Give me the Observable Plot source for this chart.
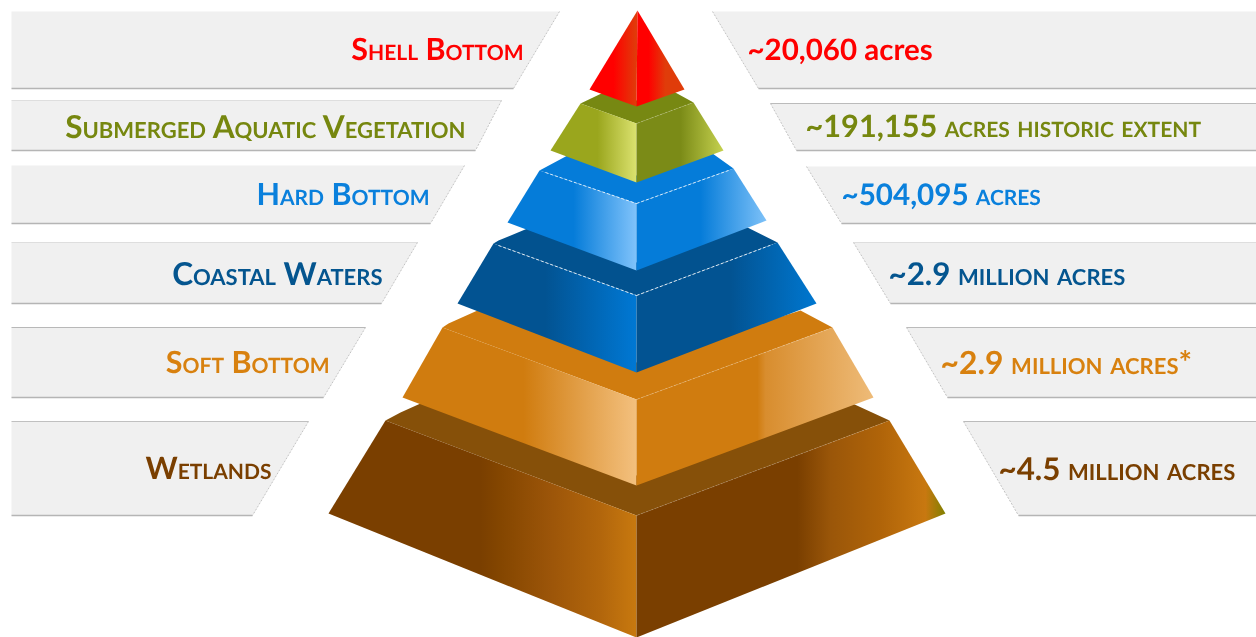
<!DOCTYPE html>
<html>
<head>
<meta charset="utf-8">
<script src="https://cdn.jsdelivr.net/npm/d3@7"></script>
<script src="https://cdn.jsdelivr.net/npm/@observablehq/plot@0.6"></script>
<style>
html,body{margin:0;padding:0;background:#fff;}
svg{display:block;filter:blur(.4px);}
svg text{text-rendering:geometricPrecision;}
</style>
</head>
<body>
<div id="chart"></div>
<script>
// Habitat names and acreages, top of the pyramid to the bottom
const habitats = ["Shell Bottom","Submerged Aquatic Vegetation","Hard Bottom","Coastal Waters","Soft Bottom","Wetlands"];
const acreages = ["~20,060 acres","~191,155 acres historic extent","~504,095 acres","~2.9 million acres","~2.9 million acres*","~4.5 million acres"];
const textColors = ["#ff0000","#76870f","#0a80dc","#04558f","#d8810f","#7a3f00"];

// Label rows
const rowY = [50,127,195,274,363,469];
const leftEnd = [523,465,429,382,329,271];
const rightStart = [747,805,841,888,940,998];
const leftSize = [30.5,31.6,30.5,31.6,30.5,30.7];
const rightSize = [29.5,30.7,29.6,31.3,31.8,31.3];

// Panels: [top y, bottom y, x at top, x at bottom]
const leftPanels = [[11,88,559,513],[100,150,501,475],[165,223,464,430],[242,303,417,381],[327,397,365,323],[421,515,308,252]];
const rightPanels = [[11,88,712,758],[103,150,770,796],[166,223,806,841],[242,303,853,890],[327,397,906,947],[421,515,963,1018]];
const leftTopLine = ["none","#dedede","none","#dedede","#b8b8b8","#c0c0c0"];
const rightTopLine = ["none","#bbbbbb","none","#dedede","#bbbbbb","#bbbbbb"];
const panelLeftEdge = 11, panelRightEdge = 1256;

// Pyramid outlines, drawn from the bottom layer up
const wetlandsTop = [[385,420],[400,412],[420,403],[636,475],[852,403],[889,420],[636,515]];
const wetlandsLeft = [[385,420],[636,515],[636,637],[328,513]];
const wetlandsRight = [[636,515],[889,420],[945,513],[636,637]];
const softTop = [[442,327],[448,323],[477,310],[636,362],[800,310],[832,327],[636,399]];
const softLeft = [[442,327],[636,399],[636,485],[402,397]];
const softRight = [[636,399],[832,327],[873,397],[636,485]];
const coastalTop = [[493,243],[498,240],[527,228],[636,262],[745,226],[777,242],[636,295]];
const coastalLeft = [[493,243],[636,295],[636,372],[457,303]];
const coastalRight = [[636,295],[777,242],[816,303],[636,372]];
const hardTop = [[539,170],[567,155],[636,175],[712,153],[733,168],[636,203]];
const hardLeft = [[539,170],[636,203],[636,270],[507,222]];
const hardRight = [[636,203],[733,168],[766,220],[636,270]];
const savTop = [[580,103],[603,92],[636,100],[673,91],[693,102],[636,123]];
const savLeft = [[580,103],[636,123],[636,182],[550,150]];
const savRight = [[636,123],[693,102],[723,150],[636,182]];
const shellLeft = [[637,10],[636,106],[589,89]];
const shellRight = [[637,10],[684,89],[636,106]];

// Face shading: [x, colour] stops
const wetlandsLeftStops = [[328,"#7a3f00"],[480,"#7a3f00"],[500,"#844600"],[550,"#9c5509"],[600,"#b2660c"],[636,"#c8790f"]];
const wetlandsRightStops = [[636,"#7a3f00"],[797,"#7a3f00"],[830,"#9a5609"],[880,"#b06409"],[925,"#c87810"],[945,"#808000"]];
const softLeftStops = [[402,"#d07c0f"],[523,"#d07c0f"],[636,"#f3c07e"]];
const softRightStops = [[636,"#d07c0f"],[757,"#d07c0f"],[765,"#d88d2e"],[873,"#eebb78"]];
const coastalLeftStops = [[457,"#025392"],[545,"#025392"],[636,"#0078d4"]];
const coastalRightStops = [[636,"#025392"],[730,"#025392"],[816,"#0077d0"]];
const hardLeftStops = [[507,"#057cd9"],[573,"#057cd9"],[636,"#80c3fb"]];
const hardRightStops = [[636,"#057cd9"],[700,"#057cd9"],[766,"#7dc1f8"]];
const savLeftStops = [[550,"#9aa61d"],[597,"#9aa61d"],[636,"#dbe26f"]];
const savRightStops = [[636,"#7b8b17"],[680,"#7b8b17"],[723,"#c5d14f"]];
const shellLeftStops = [[589,"#ff0000"],[613,"#ff0000"],[636,"#e03c0a"]];
const shellRightStops = [[636,"#ff0000"],[648,"#ff0000"],[665,"#e03c0a"],[684,"#e03c0a"]];

// Faces in paint order
const faces = [
  {pts:wetlandsTop, fill:"#865009"},
  {pts:wetlandsLeft, stops:wetlandsLeftStops},
  {pts:wetlandsRight, stops:wetlandsRightStops},
  {pts:softTop, fill:"#d07c0f"},
  {pts:softLeft, stops:softLeftStops},
  {pts:softRight, stops:softRightStops},
  {pts:coastalTop, fill:"#02528f"},
  {pts:coastalLeft, stops:coastalLeftStops},
  {pts:coastalRight, stops:coastalRightStops},
  {pts:hardTop, fill:"#057cd9"},
  {pts:hardLeft, stops:hardLeftStops},
  {pts:hardRight, stops:hardRightStops},
  {pts:savTop, fill:"#778812"},
  {pts:savLeft, stops:savLeftStops},
  {pts:savRight, stops:savRightStops},
  {pts:shellLeft, stops:shellLeftStops},
  {pts:shellRight, stops:shellRightStops}
];

// Dashed front-edge highlights on the top faces
const ridges = [
  {a:[545,172],b:[636,203],o:.8},{a:[636,203],b:[728,170],o:.8},
  {a:[498,245],b:[636,295],o:.85},{a:[636,295],b:[772,244],o:.85},
  {a:[636,399],b:[827,329],o:.22},
  {a:[636,515],b:[884,422],o:.15},
  {a:[636,123],b:[690,103],o:.2}
];

const defs = (index, scales) => {
  const ns = "http://www.w3.org/2000/svg";
  const d = document.createElementNS(ns,"defs");
  faces.forEach((f,i)=>{
    if(!f.stops) return;
    const g = document.createElementNS(ns,"linearGradient");
    g.setAttribute("id","face"+i);
    g.setAttribute("gradientUnits","userSpaceOnUse");
    const x0 = scales.x(f.stops[0][0]), x1 = scales.x(f.stops[f.stops.length-1][0]);
    g.setAttribute("x1",x0); g.setAttribute("x2",x1);
    g.setAttribute("y1",0); g.setAttribute("y2",0);
    f.stops.forEach(([x,c])=>{
      const s = document.createElementNS(ns,"stop");
      s.setAttribute("offset",(scales.x(x)-x0)/(x1-x0));
      s.setAttribute("stop-color",c);
      g.appendChild(s);
    });
    d.appendChild(g);
  });
  return d;
};

const panelOutline = (p,side) => side==="left"
  ? [[panelLeftEdge,p[0]],[p[2],p[0]],[p[3],p[1]],[panelLeftEdge,p[1]]]
  : [[panelRightEdge,p[0]],[p[2],p[0]],[p[3],p[1]],[panelRightEdge,p[1]]];

const polygon = (pts,fill) => Plot.line(pts,{x:d=>d[0],y:d=>d[1],fill,stroke:"none"});

const panelMarks = [];
[["left",leftPanels,leftTopLine],["right",rightPanels,rightTopLine]].forEach(([side,panels,tops])=>{
  const edge = side==="left"?panelLeftEdge:panelRightEdge;
  panels.forEach((p,i)=>{
    panelMarks.push(polygon(panelOutline(p,side),"#f0f0f0"));
    panelMarks.push(Plot.link([p],{x1:()=>edge,x2:d=>d[3],y1:d=>d[1],y2:d=>d[1],stroke:"#b5b5b5",strokeWidth:1.4}));
    if(tops[i]!=="none") panelMarks.push(Plot.link([p],{x1:()=>edge,x2:d=>d[2],y1:d=>d[0],y2:d=>d[0],stroke:tops[i],strokeWidth:1}));
    panelMarks.push(Plot.link([p],{x1:d=>d[2],x2:d=>d[3],y1:d=>d[0],y2:d=>d[1],stroke:"#b5b5b5",strokeWidth:.8,strokeDasharray:"2,1.5"}));
  });
});

const idx = d3.range(habitats.length);
const chart = Plot.plot({
  width:1256,height:637,
  marginTop:0,marginRight:0,marginBottom:0,marginLeft:0,
  x:{domain:[0,1256],range:[0,1256],axis:null},
  y:{domain:[0,637],range:[0,637],axis:null},
  style:{background:"#fff",overflow:"visible"},
  marks:[
    defs,
    ...panelMarks,
    ...faces.map((f,i)=>polygon(f.pts,f.stops?`url(#face${i})`:f.fill)),
    Plot.link(ridges,{x1:d=>d.a[0],y1:d=>d.a[1],x2:d=>d.b[0],y2:d=>d.b[1],stroke:"#fff",strokeOpacity:d=>d.o,strokeWidth:1,strokeDasharray:"3,2"}),
    Plot.text(idx,{x:i=>leftEnd[i],y:i=>rowY[i],text:i=>habitats[i],fill:i=>textColors[i],fontSize:i=>leftSize[i],textAnchor:"end",lineAnchor:"middle",fontFamily:"Lato",fontWeight:"bold",fontVariant:"small-caps"}),
    Plot.text(idx.slice(1),{x:i=>rightStart[i],y:i=>rowY[i],text:i=>acreages[i],fill:i=>textColors[i],fontSize:i=>rightSize[i],textAnchor:"start",lineAnchor:"middle",fontFamily:"Lato",fontWeight:"bold",fontVariant:"small-caps"}),
    Plot.text(idx.slice(0,1),{x:i=>rightStart[i],y:i=>rowY[i],text:i=>acreages[i],fill:i=>textColors[i],fontSize:i=>rightSize[i],textAnchor:"start",lineAnchor:"middle",fontFamily:"Lato",fontWeight:"bold"})
  ]
});
document.getElementById("chart").appendChild(chart);
</script>
</body>
</html>
